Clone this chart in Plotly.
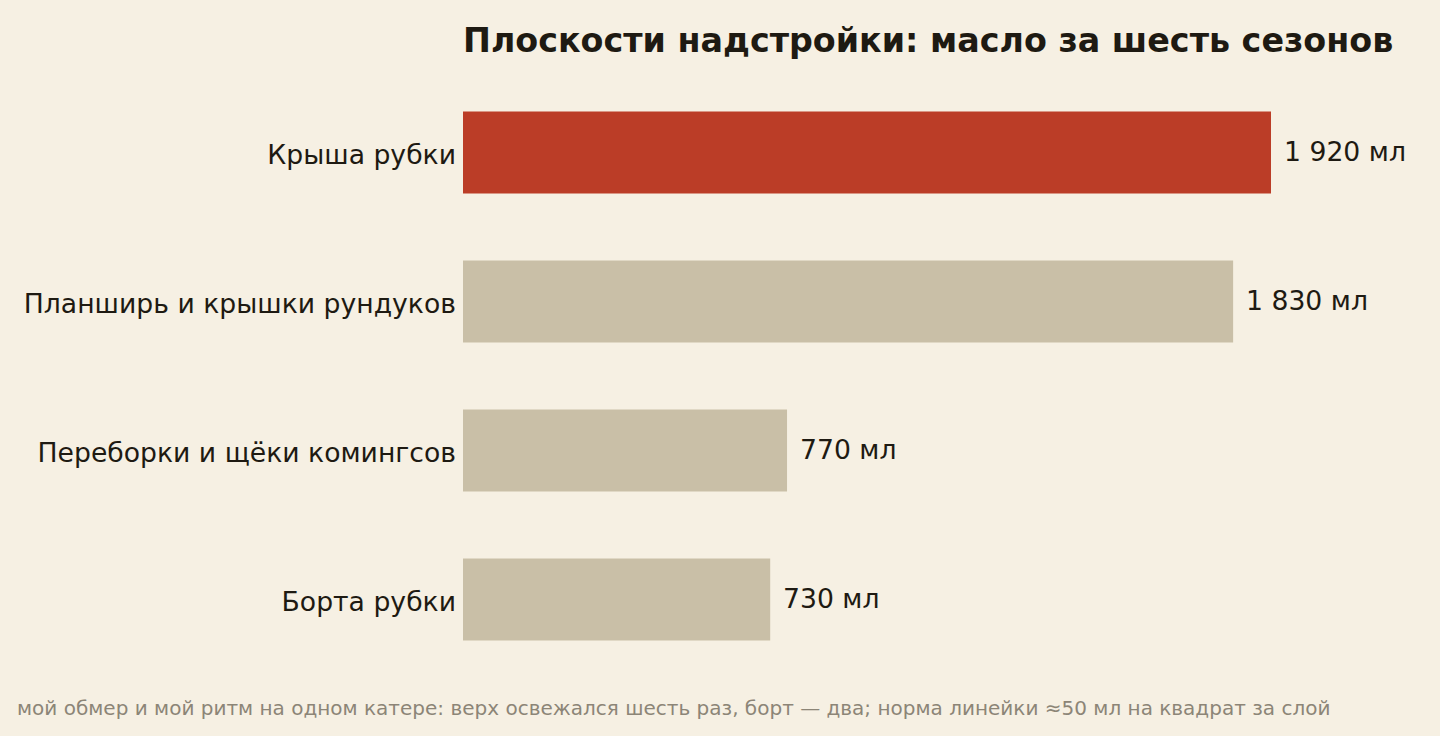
import plotly.graph_objects as go

categories = ["Крыша рубки", "Планширь и крышки рундуков", "Переборки и щёки комингсов", "Борта рубки"]
values = [1920, 1830, 770, 730]
value_labels = ["1 920 мл", "1 830 мл", "770 мл", "730 мл"]
colors = ["#BB3D27", "#C9BFA7", "#C9BFA7", "#C9BFA7"]

title = "Плоскости надстройки: масло за шесть сезонов"
footnote = "мой обмер и мой ритм на одном катере: верх освежался шесть раз, борт — два; норма линейки ≈50 мл на квадрат за слой"

BG = "#F6F0E3"
INK = "#1E1A12"
FONT = "DejaVu Sans"

W, H = 1440, 736
ML, MR, MT, MB = 463, 20, 78, 62
pw = W - ML - MR
ph = H - MT - MB

fig = go.Figure(go.Bar(
    x=values, y=categories, orientation="h",
    marker=dict(color=colors, line=dict(width=0)),
    width=0.55, hoverinfo="skip",
))

for v, c, t in zip(values, categories, value_labels):
    fig.add_annotation(x=v, y=c, text=t, showarrow=False, xanchor="left",
                       yanchor="middle", xshift=11, yshift=1,
                       font=dict(family=FONT, size=26.67, color=INK))

fig.add_annotation(xref="paper", yref="paper", x=(15 - ML) / pw, y=(H - MB - 707.5) / ph,
                   text=footnote, showarrow=False, xanchor="left", yanchor="middle",
                   font=dict(family=FONT, size=20, color="#8C8577"))

fig.update_layout(
    width=W, height=H,
    paper_bgcolor=BG, plot_bgcolor=BG,
    margin=dict(l=ML, r=MR, t=MT, b=MB),
    showlegend=False,
    title=dict(text="<b>" + title + "</b>", x=0, xref="paper", xanchor="left",
               y=1 - 40 / H, yref="container", yanchor="middle",
               font=dict(family=FONT, size=33.33, color=INK)),
    xaxis=dict(range=[0, pw / (808 / 1920)], visible=False, fixedrange=True),
    yaxis=dict(categoryorder="array", categoryarray=categories[::-1],
               showgrid=False, zeroline=False, showline=False, ticks="",
               ticklabelstandoff=6, ticklabelshift=2,
               tickfont=dict(family=FONT, size=26.67, color=INK), fixedrange=True),
    font=dict(family=FONT),
)

fig.write_html("out.html", config={"displayModeBar": False},
               post_script="document.body.style.margin='0';document.body.style.background='" + BG + "';")
